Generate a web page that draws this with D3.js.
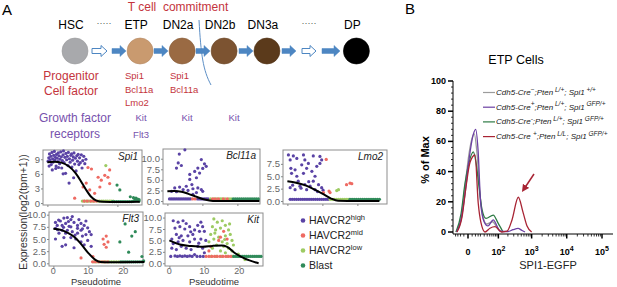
<!DOCTYPE html>
<html>
<head>
<meta charset="utf-8">
<script src="https://cdn.jsdelivr.net/npm/d3@7"></script>
<style>
  body { margin: 0; background: #fff; }
  svg { display: block; font-family: Arial, "Liberation Sans", sans-serif; }
</style>
</head>
<body>
<svg id="fig" width="617" height="287"></svg>
<script>
// ---------- Panel A: differentiation scheme ----------
const stageNames = ['HSC', 'ETP', 'DN2a', 'DN2b', 'DN3a', 'DP'];
const stageSlot = [0, 1.55, 2.55, 3.55, 4.57, 6.7];
const cellFactors = [[], ['Spi1', 'Bcl11a', 'Lmo2'], ['Spi1', 'Bcl11a'], [], [], []];
const growthReceptors = [[], ['Kit', 'Flt3'], ['Kit'], ['Kit'], [], []];

// ---------- Panel A: pseudotime scatter, [pseudotime, log2(tpm+1)] ----------
const spi1High = [[0.2,8.6],[0.4,9.3],[0.6,10.1],[0.8,8.9],[1.0,9.6],[1.1,7.9],[1.3,10.4],[1.5,9.1],[1.6,8.4],[1.8,9.8],
  [2.0,10.6],[2.1,8.8],[2.3,9.4],[2.5,7.6],[2.6,10.0],[2.8,9.2],[3.0,8.5],[3.1,10.3],[3.3,9.7],[3.5,8.1],[3.6,9.0],
  [3.8,10.5],[4.0,9.5],[4.1,7.2],[4.3,8.7],[4.5,9.9],[4.6,10.7],[4.8,8.3],[5.0,9.4],[5.2,6.1],[5.3,10.2],[5.5,8.9],
  [5.7,9.6],[5.9,7.7],[6.0,10.4],[6.2,4.1],[6.3,9.1],[6.5,8.4],[6.7,9.8],[6.9,10.1],[7.0,7.4],[7.2,8.8],[7.4,9.5],
  [7.6,10.3],[7.8,8.0],[8.0,9.2],[8.2,6.6],[8.4,9.7],[8.6,8.6],[8.8,10.0],[9.0,7.9],[9.2,9.3],[9.4,8.3],[9.7,9.9],
  [9.9,7.2],[10.1,8.7],[10.4,9.6],[10.7,8.1],[11.0,9.0],[1.4,6.8],[2.4,7.1],[7.5,5.2],[3.2,7.3],[0.5,7.6],[4.5,6.0]];
const spi1Mid = [[11.6,7.3],[12.6,7.0],[11.1,4.1],[10.2,3.3],[12.1,2.7],[13.5,2.0],[15.0,3.3],[14.5,5.3],[15.4,4.7],
  [16.4,5.7],[17.3,5.3],[17.8,6.8],[17.8,4.0],[7.8,1.0],[10.5,0.4],[11.4,0.4],[12.4,0.4],[13.2,0.4],[14.0,0.4]];
const spi1Low = [[16.7,7.7],[10.0,0.4],[10.6,0.4],[11.1,0.4],[11.7,0.4],[12.2,0.4],[12.8,0.4],[13.4,0.4],[14.4,0.4],
  [14.9,0.4],[15.5,0.4],[16.0,0.4],[16.6,0.4],[17.1,0.4],[17.7,0.4],[18.2,0.4],[18.8,0.4]];
const spi1Blast = [[19.9,3.7],[20.7,2.7],[23.7,1.3],[24.6,1.1],[25.3,1.0],[25.8,0.8],[26.2,0.7],[25.0,0.9],
  [18.6,0.3],[19.2,0.3],[19.8,0.3],[20.4,0.3],[21.0,0.3],[21.6,0.3],[22.2,0.3],[22.8,0.3],[23.4,0.3],[24.0,0.3],
  [24.6,0.4],[25.2,0.5],[25.7,0.5],[26.2,0.4]];
const spi1Fit = [[0,8.4],[2,8.5],[4,8.3],[6,7.6],[8,6.2],[9.5,4.6],[11,2.8],[12.5,1.3],[14,0.5],[16,0.25],[20,0.2],[26.4,0.25]];

const bcl11aHigh = [[3.4,11.1],[5.0,12.1],[3.1,9.0],[4.0,8.4],[2.6,7.8],[6.4,6.3],[6.4,5.1],[7.8,7.0],[8.7,7.8],
  [9.7,9.8],[10.6,8.8],[11.1,8.2],[10.1,7.7],[9.2,6.6],[8.3,5.5],[7.0,3.9],[5.4,3.5],[3.5,3.3],[2.1,3.1],[4.5,2.7],
  [5.9,2.5],[7.3,2.9],[8.7,3.1],[9.7,2.7],[1.2,2.3],[2.6,2.2],[8.3,2.0],[10.1,2.3],[7.3,1.6],
  [0.6,0.5],[1.1,0.5],[1.6,0.5],[2.1,0.5],[2.6,0.5],[3.1,0.5],[3.6,0.5],[4.1,0.5],[4.6,0.5],[5.1,0.5],[5.6,0.5],
  [6.1,0.5],[6.6,0.5],[8.6,0.5],[9.1,0.5],[9.6,0.5],[10.1,0.5],[10.6,0.5],[11.1,0.5],[11.6,0.5]];
const bcl11aMid = [[7.2,0.5],[7.9,0.5],[12.9,0.5],[13.7,0.5],[14.6,0.5],[16.0,0.5],[17.1,0.5]];
const bcl11aLow = [[12.3,0.5],[13.3,0.5],[14.2,0.5],[15.1,0.5],[15.6,0.5],[16.5,0.5],[17.6,0.5],[18.2,0.5]];
const bcl11aBlast = [[18.8,0.5],[19.4,0.5],[20.0,0.5],[20.6,0.5],[21.2,0.5],[21.8,0.5],[22.4,0.5],[23.0,0.5],
  [23.6,0.5],[24.2,0.5],[24.8,0.5],[25.4,0.5],[26.0,0.5]];
const bcl11aFit = [[0,2.3],[2,2.35],[4,2.2],[6,1.7],[8,1.1],[10,0.5],[12,0.15],[14,0.02],[20,0],[26.3,0]];

const lmo2High = [[0.3,9.3],[1.7,9.1],[4.6,9.3],[7.4,9.1],[9.3,9.0],[0.8,8.3],[2.7,8.6],[5.0,8.3],[6.0,7.6],[4.1,7.3],
  [1.0,6.6],[2.2,6.3],[5.5,6.6],[8.4,7.0],[9.8,8.3],[9.3,7.6],[7.0,6.0],[4.6,5.6],[1.2,5.6],[2.7,5.0],[7.9,5.0],
  [0.8,2.7],[2.2,2.3],[3.6,3.0],[5.0,3.3],[6.5,3.0],[8.9,3.3],[9.8,2.7],[7.9,2.3],[5.5,2.3],[3.1,4.0],[7.4,4.0],
  [1.5,3.2],[3.9,2.6],[6.1,3.9],[8.6,1.9],[10.2,2.2],
  [0.8,0.35],[1.4,0.35],[2.0,0.35],[2.6,0.35],[3.2,0.35],[3.8,0.35],[4.4,0.35],[5.0,0.35],[5.6,0.35],[6.2,0.35],
  [6.8,0.35],[7.4,0.35],[8.0,0.35],[8.6,0.35],[9.2,0.35],[9.8,0.35],[10.4,0.35],[11.0,0.35],[11.6,0.35]];
const lmo2Mid = [[11.1,8.4],[11.9,2.0],[12.2,1.7],[10.3,1.7],[16.9,3.3],[17.9,3.6],[18.4,3.5]];
const lmo2Low = [[14.1,2.1],[14.6,2.3],[12.2,0.35],[12.8,0.35],[13.4,0.35],[14.0,0.35],[14.6,0.35],[15.2,0.35],
  [15.8,0.35],[16.4,0.35],[17.0,0.35],[17.6,0.35]];
const lmo2Blast = [[17.9,0.35],[18.5,0.35],[19.1,0.35],[19.7,0.35],[20.3,0.35],[20.9,0.35],[21.5,0.35],[22.1,0.35],
  [22.7,0.35],[23.3,0.35],[23.9,0.35],[24.5,0.35],[25.1,0.35],[25.7,0.35],[26.3,0.35]];
const lmo2Fit = [[0,4.0],[2.5,3.7],[5,3.2],[7.5,2.4],[10,1.5],[12.5,0.5],[14.5,0.05],[20,0],[26.3,0]];

const flt3High = [[0.6,8.4],[2.0,8.7],[3.0,9.3],[4.0,9.4],[5.0,9.0],[1.1,7.8],[2.5,7.8],[3.5,8.2],[4.5,7.6],[5.9,8.4],
  [6.9,7.8],[7.9,8.2],[8.8,7.8],[9.8,7.3],[10.3,6.5],[9.3,5.9],[8.3,5.6],[6.9,6.2],[5.4,6.5],[4.0,6.8],[2.5,6.8],
  [1.6,6.2],[0.6,5.0],[3.0,5.3],[5.0,5.3],[6.4,5.0],[7.9,4.4],[8.8,3.8],[9.8,4.7],[2.5,3.5],[3.5,3.8],[5.9,3.2],
  [10.8,3.5],[0.6,7.2],[6.9,7.2],[5.0,7.5],[10.8,5.9],[7.9,6.8],[3.5,6.2],[9.3,8.7],[5.4,9.6],[1.5,8.9],[4.3,8.6],
  [7.3,9.0],[8.3,7.1],[2.9,7.4],[6.2,5.8],[1.2,6.9]];
const flt3Mid = [[7.9,1.1],[14.2,5.0],[15.1,5.6],[14.5,3.9],[15.1,3.3],[15.6,4.4],[11.3,1.4],[11.2,0.3],[12.0,0.3],
  [12.9,0.3],[13.8,0.3],[14.6,0.3],[15.5,0.3]];
const flt3Low = [[11.6,0.3],[12.4,0.3],[13.3,0.3],[14.2,0.3],[15.0,0.3],[15.9,0.3],[16.6,0.3],[17.3,0.3],[18.0,0.3],[18.7,0.3]];
const flt3Blast = [[20.5,8.1],[23.4,6.5],[22.4,5.6],[19.0,4.4],[21.5,2.3],[25.3,1.4],[19.3,0.3],[19.9,0.3],[20.5,0.3],
  [21.1,0.3],[21.7,0.3],[22.3,0.3],[22.9,0.3],[23.5,0.3],[24.1,0.3],[24.7,0.3],[25.3,0.3],[25.8,0.5]];
const flt3Fit = [[0,7.1],[2,6.9],[4,6.3],[6,5.4],[8,3.9],[10,2.1],[12,0.7],[13.5,0.25],[16,0.2],[26,0.25]];

const kitHigh = [[1.1,9.3],[2.5,9.0],[3.9,9.3],[4.8,8.7],[3.0,8.0],[1.6,7.7],[4.4,7.5],[5.8,8.0],[7.2,7.3],[8.1,8.3],
  [9.0,9.0],[9.5,8.0],[8.6,7.0],[10.0,7.0],[6.7,6.3],[5.3,6.0],[3.4,6.0],[2.0,6.3],[0.7,5.3],[1.1,4.3],[2.5,4.7],
  [3.9,5.0],[5.8,4.7],[7.2,5.3],[9.0,5.3],[10.4,5.0],[0.7,3.3],[2.0,3.0],[3.4,3.7],[4.8,3.3],[6.2,3.0],[8.1,3.7],
  [9.5,3.3],[1.6,1.6],[4.4,1.6],[7.2,1.9],[10.0,2.3],[3.0,1.6],[5.8,1.6],[0.4,1.5],[2.3,1.5],[3.7,1.5],[5.1,1.5],
  [6.5,1.5],[7.9,1.5],[8.8,1.5],[9.7,1.5],[6.1,6.9],[2.8,5.6],[8.4,4.4]];
const kitMid = [[14.6,5.7],[14.1,5.0],[16.5,5.3],[11.3,2.7],[11.8,3.7],[15.5,7.0],[10.5,1.5],[11.3,1.5],[12.1,1.5],
  [12.9,1.5],[13.7,1.5],[14.5,1.5],[15.3,1.5],[16.1,1.5],[16.9,1.5],[17.6,1.5]];
const kitLow = [[12.7,9.7],[13.7,9.0],[15.1,9.3],[16.0,8.3],[14.6,7.7],[13.2,7.3],[12.3,8.0],[16.9,7.3],[17.4,6.3],
  [16.0,6.0],[14.1,5.7],[12.7,5.3],[11.8,6.3],[15.1,4.7],[16.5,4.3],[17.9,5.0],[13.5,4.0],[15.5,3.7],[16.9,3.3],
  [14.6,2.7],[17.9,2.7],[16.0,2.3],[12.3,3.3],[18.3,4.0],[11.3,4.7],[19.7,2.0],[21.6,0.8],[13.0,6.6],[17.2,8.6],
  [15.8,5.2],[12.0,1.5],[13.4,1.5],[15.0,1.5],[16.5,1.5],[18.0,1.5]];
const kitBlast = [[18.4,1.5],[19.0,1.5],[19.6,1.5],[20.2,1.5],[20.8,1.5],[21.4,1.5],[22.0,1.5],[22.6,1.5],[23.2,1.5],
  [23.8,1.5],[24.4,1.5],[25.0,1.5],[25.6,1.5],[26.2,1.5]];
const kitFit = [[0,5.0],[3,4.1],[6,3.8],[9.5,3.6],[12.3,3.8],[15,3.9],[16.5,3.6],[18.8,2.2],[21.6,1.0],[24.8,0.15],[25.5,0]];

const groupNames = ['HAVCR2', 'HAVCR2', 'HAVCR2', 'Blast'];
const groupSups = ['high', 'mid', 'low', ''];

// ---------- Panel B: ETP SPI1-EGFP histograms, [fluorescence, % of max] ----------
const histLabels = [
  [['Cdh5-Cre', 0], ['\u2212', 1], [';Pten', 0], [' L/+', 1], ['; Spi1', 0], [' +/+', 1]],
  [['Cdh5-Cre', 0], ['+', 1], [';Pten', 0], [' L/+', 1], ['; Spi1', 0], [' GFP/+', 1]],
  [['Cdh5-Cre', 0], ['-', 1], [';Pten', 0], [' L/+', 1], ['; Spi1', 0], [' GFP/+', 1]],
  [['Cdh5-Cre ', 0], ['+', 1], [';Pten', 0], [' L/L', 1], ['; Spi1', 0], [' GFP/+', 1]]
];
const histGrey = [[-19,0],[-9,10],[-3.5,30],[1.1,52],[4.8,62],[8.1,65],[12.8,52],[19,25],[26.6,10],[38,5.3],[64,6.8],[90,3],[128,0]];
const histPurple = [[-17.4,0],[-9.2,8],[-3.5,25],[1.1,48],[6.2,64],[10.4,68],[14.7,55],[20.6,19],[29.4,7],[43,4],
  [67,8],[90,4],[113,0.5],[202,0.3],[285,1.5],[402,2.4],[527,1],[643,0]];
const histGreen = [[-19,0],[-9.2,12],[-3.5,32],[1.1,46],[6.6,53],[11,46],[16.8,30],[23.8,15],[35.8,9],[67,11.2],[97,6],[141,0]];
const histRed = [[-16.8,0],[-7.6,10],[-2.2,30],[2.2,46],[9.3,51],[15.2,19],[21.4,6],[32.5,0],[51,2.5],[77,3.5],
  [128,0],[188,0.5],[266,8],[410,23],[564,13],[736,4],[1000,0]];
const yTicksB = [0, 20, 40, 60, 80, 100];
const xTicksB = [0, 1e2, 1e3, 1e4, 1e5];

// ---------- styles ----------
const groupColors = ['#5a43a5', '#ee6a62', '#9dcb63', '#2f8a59'];
const stageFill = ['#a8a9ac', '#c99a6f', '#9a6a43', '#7c5331', '#5b3a1b', '#000000'];
const histColors = ['#9c9c9c', '#6b3fa3', '#2d7a44', '#a82434'];
const redText = '#c4343d';
const purpleText = '#7751ad';
const arrowBlue = '#4d86c2';
const font = 'Arial, "Liberation Sans", sans-serif';

const svg = d3.select('#fig');

// panel letters
svg.append('text').attr('x', 2).attr('y', 15).attr('font-size', 15).text('A');
svg.append('text').attr('x', 405).attr('y', 14).attr('font-size', 15).text('B');

// ===== Panel A scheme =====
const stageX = d3.scaleLinear().domain([0, 1]).range([75, 117]);
const cy = 51, r = 13;

svg.append('text')
    .attr('x', 178).attr('y', 11)
    .attr('text-anchor', 'middle')
    .attr('font-size', 12)
    .attr('fill', redText)
    .attr('xml:space', 'preserve')
    .text('T cell  commitment');

// T cell commitment boundary
svg.append('path')
    .attr('d', 'M199,20 C201,55 203,70 211,85')
    .attr('fill', 'none')
    .attr('stroke', '#5d8fc6')
    .attr('stroke-width', 1);

// arrows between stages: [x start, x end, hollow]
const arrows = [[92, 107, true], [112, 126, false], [154, 168, false], [196, 210, false],
    [239, 253, false], [282, 296, false], [302, 316, true], [322, 340, false]];
arrows.forEach(([x0, x1, hollow]) => {
    const xh = x1 - 6;
    svg.append('path')
        .attr('d', `M${x0},${cy - 2.5}L${xh},${cy - 2.5}L${xh},${cy - 5.5}L${x1},${cy}L${xh},${cy + 5.5}L${xh},${cy + 2.5}L${x0},${cy + 2.5}Z`)
        .attr('fill', hollow ? '#fff' : arrowBlue)
        .attr('stroke', arrowBlue)
        .attr('stroke-width', hollow ? 1 : 0.5);
});

stageNames.forEach((name, i) => {
    const x = stageX(stageSlot[i]);
    svg.append('circle')
        .attr('cx', x).attr('cy', cy).attr('r', r)
        .attr('fill', stageFill[i])
        .attr('stroke', i === 0 ? '#9a9a9c' : d3.color(stageFill[i]).darker(0.3))
        .attr('stroke-width', 0.6);
    svg.append('text')
        .attr('x', x - 4).attr('y', 29)
        .attr('text-anchor', 'middle')
        .attr('font-size', 12)
        .text(name);
});

// dotted gaps in the lineage
[104, 309].forEach(x => {
    svg.append('text')
        .attr('x', x).attr('y', 26)
        .attr('text-anchor', 'middle')
        .attr('font-size', 9)
        .attr('fill', '#555')
        .text('\u00b7\u00b7\u00b7\u00b7\u00b7');
});

// row headers
[['Progenitor', 80], ['Cell factor', 95]].forEach(([t, y]) => {
    svg.append('text').attr('x', 71).attr('y', y).attr('text-anchor', 'middle')
        .attr('font-size', 12).attr('fill', redText).text(t);
});
[['Growth factor', 122], ['receptors', 138]].forEach(([t, y]) => {
    svg.append('text').attr('x', 75).attr('y', y).attr('text-anchor', 'middle')
        .attr('font-size', 12).attr('fill', purpleText).text(t);
});

const factorX = [0, 125, 170, 0, 0, 0];
cellFactors.forEach((genes, i) => {
    genes.forEach((g, j) => {
        svg.append('text').attr('x', factorX[i]).attr('y', 79 + j * 13.5)
            .attr('font-size', 9.5).attr('fill', redText).text(g);
    });
});
const receptorX = [0, 141, 187, 234, 0, 0];
growthReceptors.forEach((genes, i) => {
    genes.forEach((g, j) => {
        svg.append('text').attr('x', receptorX[i]).attr('y', 121 + j * 17)
            .attr('text-anchor', 'middle')
            .attr('font-size', 9.5).attr('fill', purpleText).text(g);
    });
});

// ===== Panel A scatter plots =====
function scatterPanel(opt) {
    const [x0, y0, x1, y1] = opt.box;
    const xMin = -1.25;
    const x = d3.scaleLinear().domain([xMin, xMin + (x1 - x0) / 3.5]).range([x0, x1]);
    const y = d3.scaleLinear().domain(opt.yDomain).range([y1, y0]);
    const g = svg.append('g');

    g.append('rect')
        .attr('x', x0).attr('y', y0)
        .attr('width', x1 - x0).attr('height', y1 - y0)
        .attr('fill', '#fff')
        .attr('stroke', '#8d8d8d')
        .attr('stroke-width', 1);

    const yAxis = g.append('g')
        .attr('transform', `translate(${x0},0)`)
        .call(d3.axisLeft(y).tickValues(opt.yTicks).tickSize(2).tickPadding(1).tickFormat(opt.yFmt));
    yAxis.select('.domain').remove();
    yAxis.selectAll('line').attr('stroke', '#888');
    yAxis.selectAll('text').attr('font-size', 9.5).attr('fill', '#666').attr('font-family', font);

    const xAxis = g.append('g')
        .attr('transform', `translate(0,${y1})`)
        .call(d3.axisBottom(x).tickValues([0, 10, 20]).tickSize(2).tickFormat(''));
    xAxis.select('.domain').remove();
    xAxis.selectAll('line').attr('stroke', '#888');

    if (opt.showX) {
        g.selectAll('.xlab')
            .data([0, 10, 20])
            .join('text')
            .attr('x', d => x(d)).attr('y', y1 + 8)
            .attr('text-anchor', 'middle')
            .attr('font-size', 9)
            .attr('fill', '#666')
            .text(d => d);
    }

    opt.groups.forEach((pts, gi) => {
        const color = groupColors[opt.order[gi]];
        g.append('g').selectAll('circle')
            .data(pts)
            .join('circle')
            .attr('cx', d => x(d[0]))
            .attr('cy', d => y(d[1]))
            .attr('r', 1.6)
            .attr('fill', color);
    });

    g.append('path')
        .datum(opt.fit)
        .attr('d', d3.line().x(d => x(d[0])).y(d => y(d[1])).curve(d3.curveMonotoneX))
        .attr('fill', 'none')
        .attr('stroke', '#000')
        .attr('stroke-width', 2);

    g.append('text')
        .attr('x', x1 - 4).attr('y', y0 + 10)
        .attr('text-anchor', 'end')
        .attr('font-size', 10)
        .attr('font-style', 'italic')
        .attr('fill', '#222')
        .text(opt.gene);

    if (opt.showX) {
        g.append('text')
            .attr('x', (x0 + x1) / 2).attr('y', 285)
            .attr('text-anchor', 'middle')
            .attr('font-size', 9.5)
            .attr('fill', '#333')
            .text('Pseudotime');
    }
}

const f1 = d3.format('.1f');
const order = [0, 2, 1, 3];
scatterPanel({ box: [43, 150, 142, 205], yDomain: [-0.4, 10.9], yTicks: [0, 3, 6, 9], yFmt: d3.format('d'),
    gene: 'Spi1', groups: [spi1High, spi1Low, spi1Mid, spi1Blast], order, fit: spi1Fit });
scatterPanel({ box: [163, 149, 260, 204], yDomain: [-0.7, 12.3], yTicks: [0, 2.5, 5, 7.5, 10], yFmt: f1,
    gene: 'Bcl11a', groups: [bcl11aHigh, bcl11aLow, bcl11aMid, bcl11aBlast], order, fit: bcl11aFit });
scatterPanel({ box: [283, 150, 387, 204], yDomain: [-0.6, 10.3], yTicks: [0, 2.5, 5, 7.5], yFmt: f1,
    gene: 'Lmo2', groups: [lmo2High, lmo2Low, lmo2Mid, lmo2Blast], order, fit: lmo2Fit });
scatterPanel({ box: [49, 212, 143, 266], yDomain: [-0.55, 10.55], yTicks: [0, 2.5, 5, 7.5, 10], yFmt: f1,
    gene: 'Flt3', groups: [flt3High, flt3Low, flt3Mid, flt3Blast], order, fit: flt3Fit, showX: true });
scatterPanel({ box: [165, 213, 263, 266], yDomain: [-0.6, 11.0], yTicks: [0, 2.5, 5, 7.5, 10], yFmt: f1,
    gene: 'Kit', groups: [kitHigh, kitLow, kitMid, kitBlast], order, fit: kitFit, showX: true });

svg.append('text')
    .attr('transform', 'translate(27,212) rotate(-90)')
    .attr('text-anchor', 'middle')
    .attr('font-size', 10.5)
    .attr('fill', '#333')
    .text('Expression(log2(tpm+1))');

// legend
groupNames.forEach((name, i) => {
    const yy = 224 + i * 15;
    svg.append('circle').attr('cx', 303).attr('cy', yy - 3.5).attr('r', 2.3).attr('fill', groupColors[i]);
    const t = svg.append('text').attr('x', 309).attr('y', yy).attr('font-size', 10.5).attr('fill', '#222');
    t.append('tspan').text(name);
    if (groupSups[i]) t.append('tspan').attr('dy', -4).attr('font-size', 7.5).text(groupSups[i]);
});

// ===== Panel B histogram =====
const xB = d3.scaleSymlog().constant(16).domain([0, 1e5]).range([468, 602]);
const yB = d3.scaleLinear().domain([0, 100]).range([232, 81]);
const axisY = 234, axisX = 453;

svg.append('text')
    .attr('x', 516).attr('y', 64)
    .attr('text-anchor', 'middle')
    .attr('font-size', 12.5)
    .text('ETP Cells');

// y axis
svg.append('line').attr('x1', axisX).attr('x2', axisX).attr('y1', yB(100)).attr('y2', axisY)
    .attr('stroke', '#000').attr('stroke-width', 1);
d3.range(0, 101, 4).filter(v => v % 20 !== 0).forEach(v => {
    svg.append('line').attr('x1', axisX - 2).attr('x2', axisX).attr('y1', yB(v)).attr('y2', yB(v))
        .attr('stroke', '#000').attr('stroke-width', 0.8);
});
yTicksB.forEach(v => {
    svg.append('line').attr('x1', axisX - 5).attr('x2', axisX).attr('y1', yB(v)).attr('y2', yB(v))
        .attr('stroke', '#000').attr('stroke-width', 1.5);
    svg.append('text').attr('x', axisX - 7).attr('y', yB(v) + 3)
        .attr('text-anchor', 'end').attr('font-size', 9).attr('font-weight', 'bold').text(v);
});
svg.append('text')
    .attr('transform', 'translate(429,160) rotate(-90)')
    .attr('text-anchor', 'middle')
    .attr('font-size', 11).attr('font-weight', 'bold')
    .text('% of Max');

// x axis
svg.append('line').attr('x1', axisX).attr('x2', 613).attr('y1', axisY).attr('y2', axisY)
    .attr('stroke', '#000').attr('stroke-width', 1);
const minorB = [-20, -15, -10, -5, 5, 10, 15, 20, 30, 40, 50, 60, 70, 80, 90]
    .concat(d3.range(200, 1000, 100), d3.range(2000, 10000, 1000), d3.range(20000, 100000, 10000));
minorB.forEach(v => {
    svg.append('line').attr('x1', xB(v)).attr('x2', xB(v)).attr('y1', axisY).attr('y2', axisY + 2.5)
        .attr('stroke', '#000').attr('stroke-width', 0.8);
});
xTicksB.forEach(v => {
    svg.append('line').attr('x1', xB(v)).attr('x2', xB(v)).attr('y1', axisY).attr('y2', axisY + 4.5)
        .attr('stroke', '#000').attr('stroke-width', 1.5);
    const t = svg.append('text').attr('x', xB(v)).attr('y', 255)
        .attr('text-anchor', 'middle').attr('font-size', 9).attr('font-weight', 'bold');
    if (v === 0) {
        t.text('0');
    } else {
        t.append('tspan').text('10');
        t.append('tspan').attr('dy', -4).attr('font-size', 7).text(Math.round(Math.log10(v)));
    }
});
svg.append('text')
    .attr('x', 548).attr('y', 269)
    .attr('text-anchor', 'middle')
    .attr('font-size', 11)
    .attr('fill', '#222')
    .text('SPI1-EGFP');

// curves
const histLine = d3.line().x(d => xB(d[0])).y(d => yB(d[1])).curve(d3.curveMonotoneX);
[[histGrey, 0], [histGreen, 2], [histPurple, 1], [histRed, 3]].forEach(([data, ci]) => {
    svg.append('path')
        .datum(data)
        .attr('d', histLine)
        .attr('fill', 'none')
        .attr('stroke', histColors[ci])
        .attr('stroke-width', 1.3);
});

// arrow pointing at the GFP+ peak
svg.append('defs').append('marker')
    .attr('id', 'head').attr('viewBox', '0 0 10 10')
    .attr('refX', 5).attr('refY', 5)
    .attr('markerWidth', 5).attr('markerHeight', 5)
    .attr('orient', 'auto')
    .append('path').attr('d', 'M0,0L10,5L0,10Z').attr('fill', histColors[3]);
svg.append('line')
    .attr('x1', 534).attr('y1', 174).attr('x2', 524).attr('y2', 189)
    .attr('stroke', histColors[3]).attr('stroke-width', 1.5)
    .attr('marker-end', 'url(#head)');

// legend
histLabels.forEach((parts, i) => {
    const yy = 95 + i * 14.7;
    svg.append('line').attr('x1', 483).attr('x2', 495).attr('y1', yy - 2.5).attr('y2', yy - 2.5)
        .attr('stroke', histColors[i]).attr('stroke-width', 1.2);
    const t = svg.append('text').attr('x', 496).attr('y', yy)
        .attr('font-size', 8).attr('font-style', 'italic').attr('fill', '#222');
    let up = false;
    parts.forEach(([s, sup]) => {
        const ts = t.append('tspan').attr('xml:space', 'preserve').text(s);
        if (sup && !up) { ts.attr('dy', -3.5).attr('font-size', 6.5); up = true; }
        else if (sup) { ts.attr('font-size', 6.5); }
        else if (up) { ts.attr('dy', 3.5); up = false; }
    });
});
</script>
</body>
</html>
